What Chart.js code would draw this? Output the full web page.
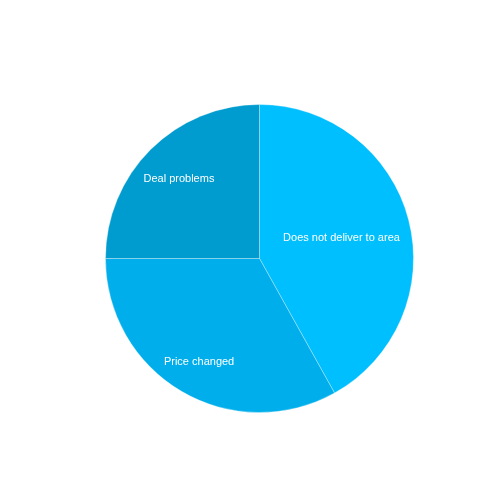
<!DOCTYPE html>
<html>
<head>
<meta charset="utf-8">
<script src="https://cdn.jsdelivr.net/npm/chart.js@4"></script>
<style>
html,body{margin:0;padding:0;background:#fff;}
#wrap{width:500px;height:500px;}
</style>
</head>
<body>
<div id="wrap"><canvas id="c" width="500" height="500"></canvas></div>
<script>
const categories = ["Does not deliver to area", "Price changed", "Deal problems"];
const values = [41.9, 33.1, 25];
const colors = ["#00BFFF", "#00AEEB", "#009CCF"];

const labelPlugin = {
  id: 'sliceLabels',
  afterDatasetsDraw(chart, args, opts) {
    const ctx = chart.ctx;
    const meta = chart.getDatasetMeta(0);
    ctx.save();
    ctx.font = '11px "Liberation Sans", Arial, sans-serif';
    ctx.fillStyle = '#ffffff';
    ctx.textAlign = 'center';
    ctx.textBaseline = 'middle';
    meta.data.forEach((arc, i) => {
      const p = arc.getProps(['x','y','startAngle','endAngle','outerRadius'], true);
      const mid = (p.startAngle + p.endAngle) / 2;
      const r = p.outerRadius * opts.radii[i];
      ctx.fillText(chart.data.labels[i], p.x + Math.cos(mid) * r, p.y + Math.sin(mid) * r + 1);
    });
    ctx.restore();
  }
};

new Chart(document.getElementById('c'), {
  type: 'pie',
  data: {
    labels: categories,
    datasets: [{
      data: values,
      backgroundColor: colors,
      borderColor: 'rgba(255,255,255,0.3)',
      borderWidth: 1
    }]
  },
  options: {
    responsive: false,
    animation: false,
    layout: { padding: { left: 105, right: 86, top: 104, bottom: 87 } },
    plugins: {
      legend: { display: false },
      tooltip: { enabled: false },
      sliceLabels: { radii: [0.55, 0.775, 0.74] }
    }
  },
  plugins: [labelPlugin]
});
</script>
</body>
</html>
